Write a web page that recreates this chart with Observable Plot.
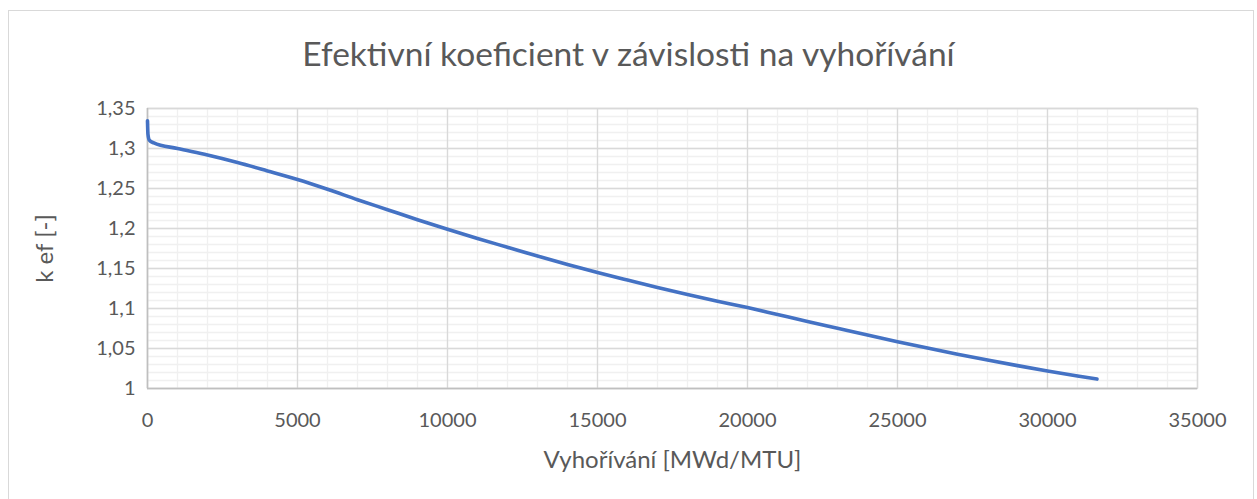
<!DOCTYPE html>
<html><head><meta charset="utf-8">
<script src="https://cdn.jsdelivr.net/npm/d3@7"></script>
<script src="https://cdn.jsdelivr.net/npm/@observablehq/plot@0.6"></script>
<style>
body{margin:0;background:#fff;font-family:Lato,"Open Sans",sans-serif;}
#wrap{position:relative;width:1257px;height:499px;overflow:hidden;background:#fff;}
#border{position:absolute;left:8px;top:10px;width:1246px;height:500px;border:1px solid #d9d9d9;box-sizing:border-box;}
#title{position:absolute;left:0;width:1257px;top:37px;text-align:center;font-size:33.5px;color:#595959;line-height:1;font-family:Lato,"Open Sans",sans-serif;}
#chart{position:absolute;left:0;top:0;}
</style></head>
<body><div id="wrap"><div id="border"></div><div id="title">Efektivní koeficient v závislosti na vyhořívání</div><div id="chart"></div></div>
<script>
const burnup = [0, 15, 60, 210, 1000, 2000, 3000, 4000, 5000, 6000, 7000, 8000, 9000, 10000, 11000, 12000, 13000, 14000, 15000, 16000, 17000, 18000, 19000, 20000, 21000, 22000, 23000, 24000, 25000, 26000, 27000, 28000, 29000, 30000, 31000, 31650];
const keff = [1.3345, 1.318, 1.3105, 1.307, 1.300, 1.2918, 1.2825, 1.272, 1.2612, 1.249, 1.236, 1.2235, 1.211, 1.199, 1.1875, 1.1765, 1.1655, 1.155, 1.145, 1.1355, 1.1262, 1.1175, 1.1092, 1.1012, 1.0925, 1.0838, 1.0753, 1.0668, 1.0585, 1.0505, 1.0428, 1.0355, 1.0286, 1.022, 1.0157, 1.0118];
const xTicks = [0, 5000, 10000, 15000, 20000, 25000, 30000, 35000];
const yTicks = [1, 1.05, 1.1, 1.15, 1.2, 1.25, 1.3, 1.35];
const xLabel = "Vyhořívání [MWd/MTU]";
const yLabel = "k ef [-]";
const xMinor = d3.range(0, 35001, 1000);
const yMinor = d3.range(100, 136).map(v => v / 100);
const data = burnup.map((x, i) => ({x, y: keff[i]}));
const fmt = d => String(+d.toFixed(2)).replace(".", ",");
const plot = Plot.plot({
  width: 1257, height: 499,
  marginLeft: 147, marginRight: 60, marginTop: 108, marginBottom: 111,
  style: {fontFamily: "Lato, 'Open Sans', sans-serif", fontSize: "20px", color: "#595959", background: "transparent"},
  x: {domain: [0, 35000]},
  y: {domain: [1, 1.35]},
  marks: [
    Plot.gridX(xMinor, {stroke: "#f0f0f0", strokeOpacity: 1, strokeWidth: 1.3}),
    Plot.gridY(yMinor, {stroke: "#f0f0f0", strokeOpacity: 1, strokeWidth: 1.3}),
    Plot.gridX(xTicks, {stroke: "#d9d9d9", strokeOpacity: 1, strokeWidth: 1.3}),
    Plot.gridY(yTicks, {stroke: "#d9d9d9", strokeOpacity: 1, strokeWidth: 1.3}),
    Plot.frame({stroke: "#d9d9d9", strokeWidth: 1.3}),
    Plot.ruleY([1], {stroke: "#bfbfbf", strokeWidth: 1.5}),
    Plot.ruleX([0], {stroke: "#bfbfbf", strokeWidth: 1.5}),
    Plot.line(data, {x: "x", y: "y", stroke: "#4472C4", strokeWidth: 3.6, curve: "monotone-x", strokeLinecap: "round"}),
    Plot.axisX(xTicks, {tickSize: 0, tickPadding: 24, tickFormat: d => String(d), fontSize: 20, label: null}),
    Plot.axisX({label: xLabel, ticks: [], labelAnchor: "center", labelArrow: "none", labelOffset: 79, fontSize: 24}),
    Plot.axisY(yTicks, {tickSize: 0, tickPadding: 12, tickFormat: fmt, fontSize: 20, label: null}),
    Plot.axisY({label: yLabel, ticks: [], labelAnchor: "center", labelArrow: "none", labelOffset: 112, fontSize: 24})
  ]
});
document.getElementById("chart").appendChild(plot);
</script>
</body></html>
